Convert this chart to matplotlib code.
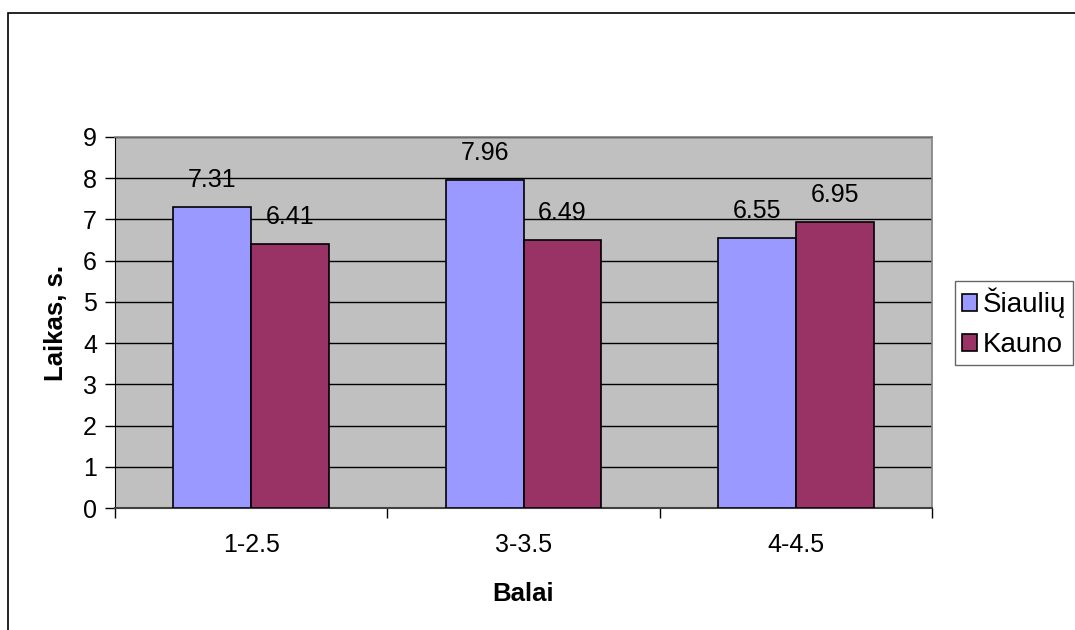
import matplotlib
matplotlib.use("Agg")
import matplotlib.pyplot as plt
import numpy as np
from matplotlib.patches import Rectangle

plt.rcParams['font.family'] = ['Liberation Sans', 'DejaVu Sans']

categories = ["1-2.5", "3-3.5", "4-4.5"]
siauliu = [7.31, 7.96, 6.55]
kauno = [6.41, 6.49, 6.95]
series_names = ["Šiaulių", "Kauno"]
y_ticks = list(range(0, 10))

W, H = 1075, 630
FS = 18
fig = plt.figure(figsize=(W / 100, H / 100), dpi=100)

# chart border
fig.add_artist(Rectangle((8 / W, -0.05), 1.2, 1 - 13 / H + 0.05,
                         transform=fig.transFigure, fill=False,
                         edgecolor='black', linewidth=1.2))

ax = fig.add_axes([115 / W, 1 - 508 / H, (932 - 115) / W, (508 - 137) / H])
ax.set_facecolor('#C0C0C0')

x = np.arange(len(categories))
bw = 1 / 3.5
b1 = ax.bar(x - bw / 2, siauliu, bw, color='#9999FF', edgecolor='black',
            linewidth=1.2, label=series_names[0], zorder=3)
b2 = ax.bar(x + bw / 2, kauno, bw, color='#993366', edgecolor='black',
            linewidth=1.2, label=series_names[1], zorder=3)

for bars, vals in ((b1, siauliu), (b2, kauno)):
    for rect, v in zip(bars, vals):
        ax.annotate(f"{v:.2f}", (rect.get_x() + rect.get_width() / 2, v),
                    xytext=(0, 15), textcoords='offset pixels',
                    ha='center', va='bottom', fontsize=FS, zorder=4)

ax.set_xlim(-0.5, len(categories) - 0.5)
ax.set_ylim(0, 9)
ax.set_yticks(y_ticks)
ax.yaxis.grid(True, color='black', linewidth=1.0, zorder=1)
ax.set_axisbelow(True)

ax.set_xticks(x)
ax.set_xticklabels(categories, fontsize=FS)
ax.set_xticks(np.arange(-0.5, len(categories)), minor=True)
ax.tick_params(axis='x', which='major', length=0, pad=18)
ax.tick_params(axis='x', which='minor', length=7, width=1, color='black')
ax.tick_params(axis='y', length=7, width=1, labelsize=FS, pad=6, direction='out')

for s in ('top', 'right'):
    ax.spines[s].set_color('#808080')
    ax.spines[s].set_linewidth(1.2)
ax.spines['left'].set_color('black')
ax.spines['bottom'].set_color('#404040')
ax.spines['bottom'].set_linewidth(1.5)

ax.set_ylabel("Laikas, s.", fontsize=18.5, fontweight='bold', labelpad=11)
ax.set_xlabel("Balai", fontsize=18.5, fontweight='bold', labelpad=18)

leg = fig.legend(handles=[b1, b2], loc='lower left',
                 bbox_to_anchor=(955 / W, 1 - 365 / H), fontsize=20,
                 frameon=True, fancybox=False, edgecolor='#404040',
                 handlelength=0.55, handleheight=0.55, handletextpad=0.2,
                 borderpad=0.25, labelspacing=0.5, borderaxespad=0)
leg.get_frame().set_linewidth(1.0)

fig.savefig("out.png", dpi=100)
